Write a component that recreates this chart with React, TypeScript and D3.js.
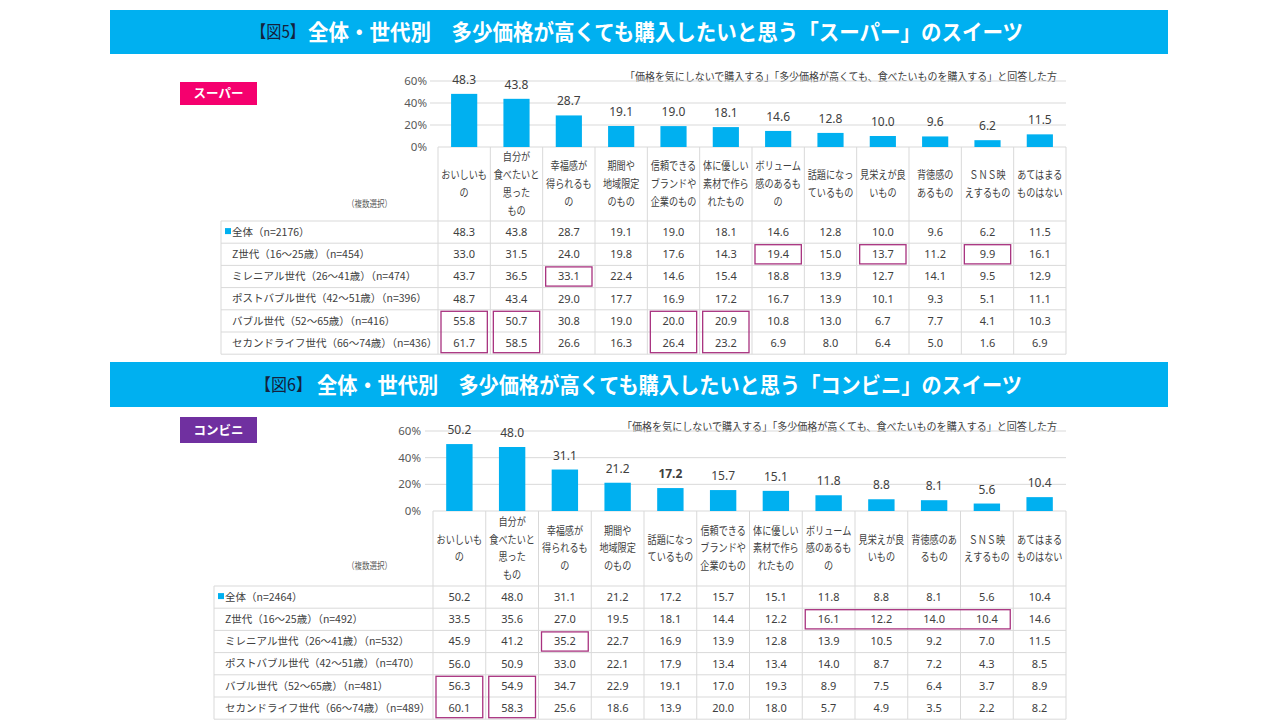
import * as d3 from "d3";

// ---- data -----------------------------------------------------------------

const SUPER_CATS = [
  ["おいしいも", "の"],
  ["自分が", "食べたいと", "思った", "もの"],
  ["幸福感が", "得られるも", "の"],
  ["期間や", "地域限定", "のもの"],
  ["信頼できる", "ブランドや", "企業のもの"],
  ["体に優しい", "素材で作ら", "れたもの"],
  ["ボリューム", "感のあるも", "の"],
  ["話題になっ", "ているもの"],
  ["見栄えが良", "いもの"],
  ["背徳感の", "あるもの"],
  ["ＳＮＳ映", "えするもの"],
  ["あてはまる", "ものはない"],
];

const CONV_CATS = [
  ["おいしいも", "の"],
  ["自分が", "食べたいと", "思った", "もの"],
  ["幸福感が", "得られるも", "の"],
  ["期間や", "地域限定", "のもの"],
  ["話題になっ", "ているもの"],
  ["信頼できる", "ブランドや", "企業のもの"],
  ["体に優しい", "素材で作ら", "れたもの"],
  ["ボリューム", "感のあるも", "の"],
  ["見栄えが良", "いもの"],
  ["背徳感のあ", "るもの"],
  ["ＳＮＳ映", "えするもの"],
  ["あてはまる", "ものはない"],
];

const SUPER_ROWS = [
  "全体（n=2176）",
  "Z世代（16～25歳）（n=454）",
  "ミレニアル世代（26～41歳）（n=474）",
  "ポストバブル世代（42～51歳）（n=396）",
  "バブル世代（52～65歳）（n=416）",
  "セカンドライフ世代（66～74歳）（n=436）",
];

const CONV_ROWS = [
  "全体（n=2464）",
  "Z世代（16～25歳）（n=492）",
  "ミレニアル世代（26～41歳）（n=532）",
  "ポストバブル世代（42～51歳）（n=470）",
  "バブル世代（52～65歳）（n=481）",
  "セカンドライフ世代（66～74歳）（n=489）",
];

// first row = 全体, which is also the bar series
const SUPER_VALUES = [
  [48.3, 43.8, 28.7, 19.1, 19.0, 18.1, 14.6, 12.8, 10.0, 9.6, 6.2, 11.5],
  [33.0, 31.5, 24.0, 19.8, 17.6, 14.3, 19.4, 15.0, 13.7, 11.2, 9.9, 16.1],
  [43.7, 36.5, 33.1, 22.4, 14.6, 15.4, 18.8, 13.9, 12.7, 14.1, 9.5, 12.9],
  [48.7, 43.4, 29.0, 17.7, 16.9, 17.2, 16.7, 13.9, 10.1, 9.3, 5.1, 11.1],
  [55.8, 50.7, 30.8, 19.0, 20.0, 20.9, 10.8, 13.0, 6.7, 7.7, 4.1, 10.3],
  [61.7, 58.5, 26.6, 16.3, 26.4, 23.2, 6.9, 8.0, 6.4, 5.0, 1.6, 6.9],
];

const CONV_VALUES = [
  [50.2, 48.0, 31.1, 21.2, 17.2, 15.7, 15.1, 11.8, 8.8, 8.1, 5.6, 10.4],
  [33.5, 35.6, 27.0, 19.5, 18.1, 14.4, 12.2, 16.1, 12.2, 14.0, 10.4, 14.6],
  [45.9, 41.2, 35.2, 22.7, 16.9, 13.9, 12.8, 13.9, 10.5, 9.2, 7.0, 11.5],
  [56.0, 50.9, 33.0, 22.1, 17.9, 13.4, 13.4, 14.0, 8.7, 7.2, 4.3, 8.5],
  [56.3, 54.9, 34.7, 22.9, 19.1, 17.0, 19.3, 8.9, 7.5, 6.4, 3.7, 8.9],
  [60.1, 58.3, 25.6, 18.6, 13.9, 20.0, 18.0, 5.7, 4.9, 3.5, 2.2, 8.2],
];

// highlighted cells: [row, rowSpan, col, colSpan]
const SUPER_BOXES = [
  [1, 1, 6, 1],
  [1, 1, 8, 1],
  [1, 1, 10, 1],
  [2, 1, 2, 1],
  [4, 2, 0, 1],
  [4, 2, 1, 1],
  [4, 2, 4, 1],
  [4, 2, 5, 1],
];

const CONV_BOXES = [
  [1, 1, 7, 4],
  [2, 1, 2, 1],
  [4, 2, 0, 1],
  [4, 2, 1, 1],
];

const Y_TICKS = [0, 20, 40, 60];
const NOTE =
  "「価格を気にしないで購入する」「多少価格が高くても、食べたいものを購入する」と回答した方";

// ---- drawing --------------------------------------------------------------

const BLUE = "#00B0F0";
const GRID = "#D9D9D9";
const INK = "#404040";
const JP = "'Noto Sans CJK JP', 'Noto Sans', sans-serif";
const NUM = "'Noto Sans', 'DejaVu Sans', sans-serif";

type Layout = {
  barTop: number;
  barBottom: number;
  figX: number;
  figLen: number;
  titleX: number;
  titleLen: number;
  tagY: number;
  tagH: number;
  colLeft: number;
  colRight: number;
  zeroY: number;
  y60: number;
  gridLeft: number;
  axisX: number;
  headerBottom: number;
  rowH: number;
  tableLeft: number;
  noteX: number;
  noteY: number;
  multiY: number;
};

type PanelProps = {
  fig: string;
  title: string;
  tag: string;
  tagColor: string;
  cats: string[][];
  rows: string[];
  values: number[][];
  boxes: number[][];
  boldIdx?: number;
  L: Layout;
};

function Panel({ fig, title, tag, tagColor, cats, rows, values, boxes, boldIdx, L }: PanelProps) {
  const names = cats.map((c) => c.join(""));
  const x = d3.scaleBand().domain(names).range([L.colLeft, L.colRight]);
  const step = x.step();
  const y = d3.scaleLinear().domain([0, 60]).range([L.zeroY, L.y60]);
  const tableBottom = L.headerBottom + rows.length * L.rowH;
  const headMid = (L.zeroY + L.headerBottom) / 2;
  const lineH = 17.8;
  const totals = values[0];
  const midBar = (L.barTop + L.barBottom) / 2;

  return (
    <g>
      {/* title bar */}
      <rect x={110} y={L.barTop} width={1058} height={L.barBottom - L.barTop} fill={BLUE} />
      <text
        x={L.figX}
        y={midBar}
        dy="0.38em"
        fontFamily={JP}
        fontSize={17}
        fill="#14213D"
        textLength={L.figLen}
        lengthAdjust="spacingAndGlyphs"
      >
        {fig}
      </text>
      <text
        x={L.titleX}
        y={midBar}
        dy="0.38em"
        fontFamily={JP}
        fontSize={22}
        fontWeight="bold"
        fill="#fff"
        textLength={L.titleLen}
        lengthAdjust="spacingAndGlyphs"
      >
        {title}
      </text>

      {/* tag */}
      <rect x={180} y={L.tagY} width={77} height={L.tagH} fill={tagColor} />
      <text
        x={218.5}
        y={L.tagY + L.tagH / 2}
        dy="0.36em"
        textAnchor="middle"
        fontFamily={JP}
        fontSize={12.5}
        fontWeight="bold"
        fill="#fff"
      >
        {tag}
      </text>

      {/* note */}
      <text
        x={L.noteX}
        y={L.noteY}
        fontFamily={JP}
        fontSize={11}
        fill={INK}
        textLength={1057 - L.noteX}
        lengthAdjust="spacingAndGlyphs"
      >
        {NOTE}
      </text>

      {/* grid + axis */}
      {Y_TICKS.map((t) => (
        <g key={t}>
          <line
            x1={t === 0 ? L.colLeft : L.gridLeft}
            x2={L.colRight}
            y1={y(t)}
            y2={y(t)}
            stroke={GRID}
          />
          <text
            x={L.axisX}
            y={y(t)}
            dy="0.35em"
            textAnchor="end"
            fontFamily={NUM}
            fontSize={11.5}
            fill="#595959"
          >
            {t}%
          </text>
        </g>
      ))}

      {/* bars */}
      {totals.map((v, i) => (
        <g key={names[i]}>
          <rect
            x={(x(names[i]) ?? 0) + step * 0.25}
            y={y(v)}
            width={step * 0.5}
            height={L.zeroY - y(v)}
            fill={BLUE}
          />
          <text
            x={(x(names[i]) ?? 0) + step / 2}
            y={y(v) - 10}
            textAnchor="middle"
            fontFamily={NUM}
            fontSize={12}
            fontWeight={i === boldIdx ? "bold" : "normal"}
            fill={INK}
          >
            {v.toFixed(1)}
          </text>
        </g>
      ))}

      {/* table lines */}
      {d3.range(names.length + 1).map((i) => (
        <line
          key={`v${i}`}
          x1={L.colLeft + i * step}
          x2={L.colLeft + i * step}
          y1={L.zeroY}
          y2={tableBottom}
          stroke={GRID}
        />
      ))}
      <line x1={L.tableLeft} x2={L.tableLeft} y1={L.headerBottom} y2={tableBottom} stroke={GRID} />
      {d3.range(rows.length + 1).map((i) => (
        <line
          key={`h${i}`}
          x1={L.tableLeft}
          x2={L.colRight}
          y1={L.headerBottom + i * L.rowH}
          y2={L.headerBottom + i * L.rowH}
          stroke={GRID}
        />
      ))}

      {/* category headers */}
      {cats.map((lines, i) => {
        const cx = (x(names[i]) ?? 0) + step / 2;
        const y0 = headMid - ((lines.length - 1) / 2) * lineH;
        return (
          <g key={`c${i}`} transform={`translate(${cx},0) scale(0.83,1)`}>
            {lines.map((ln, j) => (
              <text
                key={j}
                x={0}
                y={y0 + j * lineH}
                dy="0.36em"
                textAnchor="middle"
                fontFamily={JP}
                fontSize={11}
                fill={INK}
              >
                {ln}
              </text>
            ))}
          </g>
        );
      })}
      <text
        x={347}
        y={L.multiY}
        dy="0.35em"
        fontFamily={JP}
        fontSize={9.5}
        fill="#595959"
        textLength={45}
        lengthAdjust="spacingAndGlyphs"
      >
        （複数選択）
      </text>

      {/* row labels */}
      {rows.map((r, i) => {
        const cy = L.headerBottom + (i + 0.5) * L.rowH;
        return (
          <g key={r}>
            {i === 0 && <rect x={L.tableLeft + 4} y={cy - 4} width={6} height={6} fill={BLUE} />}
            <text
              x={L.tableLeft + 11}
              y={cy}
              dy="0.36em"
              fontFamily={JP}
              fontSize={10.5}
              fill={INK}
            >
              {r}
            </text>
          </g>
        );
      })}

      {/* values */}
      {values.map((row, ri) =>
        row.map((v, ci) => (
          <text
            key={`${ri}-${ci}`}
            x={(x(names[ci]) ?? 0) + step / 2}
            y={L.headerBottom + (ri + 0.5) * L.rowH}
            dy="0.36em"
            textAnchor="middle"
            fontFamily={NUM}
            fontSize={11}
            fill={INK}
          >
            {v.toFixed(1)}
          </text>
        ))
      )}

      {/* highlight boxes */}
      {boxes.map(([r, rs, c, cs], i) => (
        <rect
          key={`b${i}`}
          x={L.colLeft + c * step + 3}
          y={L.headerBottom + r * L.rowH + 1.5}
          width={cs * step - 6}
          height={rs * L.rowH - 3}
          fill="none"
          stroke="#A8327F"
          strokeWidth={1.3}
        />
      ))}
    </g>
  );
}

const TOP: Layout = {
  barTop: 10,
  barBottom: 54,
  figX: 251,
  figLen: 54,
  titleX: 308,
  titleLen: 715,
  tagY: 82,
  tagH: 23,
  colLeft: 438,
  colRight: 1066,
  zeroY: 147,
  y60: 81,
  gridLeft: 430,
  axisX: 427,
  headerBottom: 221,
  rowH: 22.2,
  tableLeft: 221,
  noteX: 625,
  noteY: 80.5,
  multiY: 204,
};

const BOTTOM: Layout = {
  barTop: 362,
  barBottom: 407,
  figX: 255,
  figLen: 57,
  titleX: 317,
  titleLen: 705,
  tagY: 417,
  tagH: 26,
  colLeft: 433,
  colRight: 1066,
  zeroY: 511,
  y60: 431,
  gridLeft: 425,
  axisX: 421,
  headerBottom: 586,
  rowH: 22.2,
  tableLeft: 214,
  noteX: 622,
  noteY: 431,
  multiY: 566,
};

export default function App() {
  return (
    <svg
      width={1280}
      height={720}
      viewBox="0 0 1280 720"
      style={{ position: "absolute", left: 0, top: 0, background: "#fff" }}
    >
      <Panel
        fig="【図5】"
        title="全体・世代別　多少価格が高くても購入したいと思う「スーパー」のスイーツ"
        tag="スーパー"
        tagColor="#F5006E"
        cats={SUPER_CATS}
        rows={SUPER_ROWS}
        values={SUPER_VALUES}
        boxes={SUPER_BOXES}
        L={TOP}
      />
      <Panel
        fig="【図6】"
        title="全体・世代別　多少価格が高くても購入したいと思う「コンビニ」のスイーツ"
        tag="コンビニ"
        tagColor="#7030A0"
        cats={CONV_CATS}
        rows={CONV_ROWS}
        values={CONV_VALUES}
        boxes={CONV_BOXES}
        boldIdx={4}
        L={BOTTOM}
      />
    </svg>
  );
}
